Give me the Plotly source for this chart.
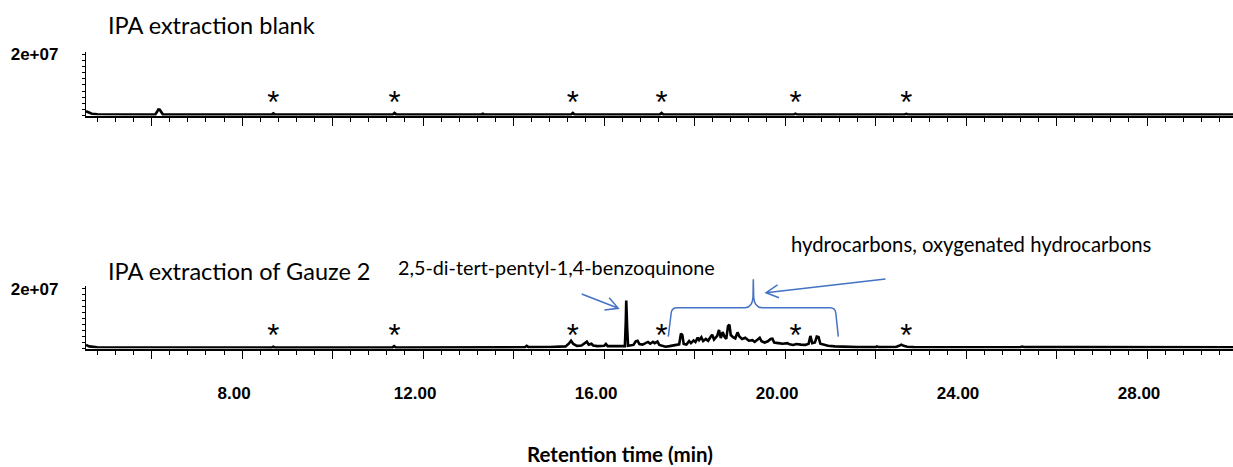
import math
import plotly.graph_objects as go

W, H = 1233, 467

# ---------------- data ----------------
# Blank extraction: retention time (min) / signal (millions of counts)
blank_time = [4.55, 4.60, 4.68, 4.80, 5.50, 6.08, 6.12, 6.15, 6.18, 6.21, 6.25, 7.50,
              8.65, 8.69, 8.73, 10.00, 11.33, 11.37, 11.41, 13.28, 13.32, 13.36,
              15.27, 15.31, 15.35, 16.50, 17.23, 17.27, 17.31, 18.80, 20.19, 20.23,
              20.27, 22.64, 22.68, 22.72, 25.00, 29.90]
blank_mcounts = [1.4, 1.0, 0.6, 0.4, 0.3, 0.3, 1.2, 2.0, 1.9, 1.0, 0.3, 0.3,
                 0.3, 0.7, 0.3, 0.3, 0.3, 0.8, 0.3, 0.3, 0.6, 0.3,
                 0.3, 0.8, 0.3, 0.3, 0.3, 0.8, 0.3, 0.3, 0.3, 0.6,
                 0.3, 0.3, 0.5, 0.3, 0.3, 0.3]

# Gauze 2 extraction: retention time (min) / signal (millions of counts)
gauze_time = [4.55, 4.62, 4.80, 6.00, 8.65, 8.69, 8.73, 11.32, 11.36, 11.40, 12.50,
              12.80, 12.85, 12.90, 13.50, 14.00, 14.25, 14.29, 14.33, 14.80, 15.00,
              15.15, 15.22, 15.27, 15.32, 15.40, 15.50, 15.58, 15.62, 15.66, 15.72,
              15.76, 15.85, 16.00, 16.04, 16.08, 16.30, 16.46, 16.48, 16.49, 16.51,
              16.53, 16.65, 16.70, 16.74, 16.78, 16.85, 16.93, 16.97, 17.02, 17.08,
              17.12, 17.18, 17.22, 17.30, 17.36, 17.45, 17.55, 17.66, 17.70, 17.73,
              17.76, 17.82, 17.88, 17.92, 17.98, 18.02, 18.07, 18.10, 18.15, 18.19,
              18.25, 18.30, 18.36, 18.39, 18.43, 18.50, 18.54, 18.58, 18.62, 18.66,
              18.70, 18.74, 18.77, 18.80, 18.85, 18.90, 18.95, 18.99, 19.05, 19.12,
              19.20, 19.28, 19.33, 19.40, 19.44, 19.48, 19.55, 19.62, 19.68, 19.72,
              19.76, 19.85, 19.95, 20.05, 20.10, 20.18, 20.25, 20.35, 20.45, 20.52,
              20.56, 20.60, 20.66, 20.70, 20.74, 20.78, 20.85, 20.95, 21.10, 21.30,
              21.60, 22.00, 22.03, 22.07, 22.45, 22.52, 22.57, 22.62, 22.70, 22.85,
              23.50, 25.20, 25.24, 25.30, 26.50, 28.14, 28.17, 28.21, 29.90]
gauze_mcounts = [1.2, 0.7, 0.4, 0.3, 0.3, 0.6, 0.3, 0.3, 0.8, 0.3, 0.35,
                 0.3, 0.55, 0.35, 0.4, 0.4, 0.4, 0.9, 0.45, 0.5, 0.6,
                 0.7, 1.6, 2.6, 1.5, 0.9, 1.0, 1.8, 2.3, 1.3, 1.6,
                 1.0, 0.8, 0.9, 1.5, 0.8, 0.7, 0.8, 9.0, 16.0, 7.0,
                 0.9, 1.2, 2.4, 2.6, 1.5, 1.3, 2.0, 2.2, 1.6, 2.2,
                 1.8, 2.3, 1.2, 0.9, 0.6, 0.8, 1.2, 1.4, 5.0, 4.5,
                 1.5, 1.3, 2.5, 1.8, 2.7, 2.2, 3.6, 2.8, 3.8, 2.5,
                 3.2, 2.6, 4.0, 4.6, 3.0, 4.2, 6.2, 3.5, 5.5, 4.0,
                 3.2, 7.5, 8.0, 4.5, 3.8, 3.4, 5.4, 4.0, 3.2, 3.6,
                 2.6, 2.8, 2.2, 3.3, 3.6, 2.4, 2.0, 2.4, 3.2, 3.3,
                 2.0, 1.8, 1.6, 1.8, 1.4, 1.2, 1.5, 1.3, 1.2, 1.6,
                 4.2, 1.8, 2.0, 4.0, 3.8, 1.6, 1.2, 0.9, 0.7, 0.55,
                 0.45, 0.45, 0.7, 0.45, 0.5, 0.9, 1.3, 0.9, 0.6, 0.45,
                 0.4, 0.4, 0.65, 0.45, 0.45, 0.4, 0.65, 0.4, 0.4]

star_times = [8.69, 11.37, 15.31, 17.27, 20.23, 22.68]   # peaks marked with *

x_label_values = [8, 12, 16, 20, 24, 28]
x_label_text = ["8.00", "12.00", "16.00", "20.00", "24.00", "28.00"]
y_tick_values = [2e7]
y_tick_text = ["2e+07"]

panel_titles = ["IPA extraction blank", "IPA extraction of Gauze 2"]
compound_label = "2,5-di-tert-pentyl-1,4-benzoquinone"
region_label = "hydrocarbons, oxygenated hydrocarbons"
x_title = "Retention time (min)"

SCALE = 1e6
blank_signal = [v * SCALE for v in blank_mcounts]
gauze_signal = [v * SCALE for v in gauze_mcounts]

# ---------------- layout helpers ----------------
def px(x):
    return x / W

def py(y):
    return 1 - y / H

X_RANGE = [4.55, 29.9]
Y_RANGE = [0, 2.09e7]
BLUE = "#4472C4"
LABEL_FONT = "Liberation Sans, Arial, sans-serif"
TEXT_FONT = "Lato, Calibri, sans-serif"

fig = go.Figure()
line_style = dict(color="black", width=2.6)
fig.add_trace(go.Scatter(x=blank_time, y=blank_signal, mode="lines", line=line_style,
                         xaxis="x", yaxis="y", hoverinfo="skip", showlegend=False))
fig.add_trace(go.Scatter(x=gauze_time, y=gauze_signal, mode="lines", line=line_style,
                         xaxis="x2", yaxis="y2", hoverinfo="skip", showlegend=False))

star_font = dict(family=LABEL_FONT, size=31, color="black")
fig.add_trace(go.Scatter(x=star_times, y=[3.3e6] * len(star_times), mode="text",
                         text=["*"] * len(star_times), textfont=star_font,
                         textposition="middle center", cliponaxis=False,
                         xaxis="x", yaxis="y", hoverinfo="skip", showlegend=False))
fig.add_trace(go.Scatter(x=star_times, y=[3.4e6] * len(star_times), mode="text",
                         text=["*"] * len(star_times), textfont=star_font,
                         textposition="middle center", cliponaxis=False,
                         xaxis="x2", yaxis="y2", hoverinfo="skip", showlegend=False))

major_ticks = [v for v in range(6, 30, 2)]
tick_text = [f"{v:.2f}" if v in x_label_values else "" for v in major_ticks]

def xaxis_cfg(anchor, labels):
    return dict(domain=[px(86), 1], range=X_RANGE, anchor=anchor, automargin=False,
                showline=True, linecolor="black", linewidth=2.4,
                showgrid=False, zeroline=False,
                ticks="outside", ticklen=8, tickwidth=1.3, tickcolor="black",
                tickmode="array", tickvals=major_ticks,
                ticktext=tick_text if labels else [""] * len(major_ticks),
                showticklabels=labels,
                tickfont=dict(family=LABEL_FONT, size=17, color="black", weight="bold"),
                ticklabelshift=-8, ticklabelstandoff=20,
                minor=dict(dtick=0.4, tick0=0, ticks="outside", ticklen=4,
                           tickwidth=1.1, tickcolor="black", showgrid=False))

def yaxis_cfg(anchor, top, bottom):
    return dict(domain=[py(bottom), py(top)], range=Y_RANGE, anchor=anchor, automargin=False,
                showline=True, linecolor="black", linewidth=1.3,
                showgrid=False, zeroline=False,
                ticks="outside", ticklen=3, tickwidth=1, tickcolor="black",
                tickmode="array", tickvals=y_tick_values, ticktext=y_tick_text,
                tickfont=dict(family=LABEL_FONT, size=17, color="black", weight="bold"),
                ticklabelstandoff=20,
                minor=dict(dtick=2e6, tick0=0, ticks="outside", ticklen=3,
                           tickwidth=1, tickcolor="black", showgrid=False))

fig.update_layout(
    width=W, height=H, margin=dict(l=0, r=0, t=0, b=0, pad=0, autoexpand=False),
    paper_bgcolor="white", plot_bgcolor="white",
    xaxis=xaxis_cfg("y", False), xaxis2=xaxis_cfg("y2", True),
    yaxis=yaxis_cfg("x", 51.7, 115.5), yaxis2=yaxis_cfg("x2", 286, 348.5),
    showlegend=False,
)

ann = []
ann.append(dict(text=panel_titles[0], x=px(106), y=py(25), xref="paper", yref="paper",
                xanchor="left", yanchor="middle", showarrow=False,
                font=dict(family=TEXT_FONT, size=23.5, color="black")))
ann.append(dict(text=panel_titles[1], x=px(106), y=py(271), xref="paper", yref="paper",
                xanchor="left", yanchor="middle", showarrow=False,
                font=dict(family=TEXT_FONT, size=23.5, color="black")))
ann.append(dict(text=compound_label, x=px(396), y=py(267), xref="paper", yref="paper",
                xanchor="left", yanchor="middle", showarrow=False,
                font=dict(family=TEXT_FONT, size=19.8, color="black")))
ann.append(dict(text=region_label, x=px(789), y=py(244), xref="paper", yref="paper",
                xanchor="left", yanchor="middle", showarrow=False,
                font=dict(family=TEXT_FONT, size=20.3, color="black")))
ann.append(dict(text="<b>" + x_title + "</b>", x=px(620), y=0, xref="paper", yref="paper",
                xanchor="center", yanchor="bottom", showarrow=False, borderpad=0,
                font=dict(family=TEXT_FONT, size=20.5, color="black")))

shapes = []

def P(x, y):
    return f"{px(x):.5f},{py(y):.5f}"

def arrow(x0, y0, x1, y1, barb=14, ang=28):
    dx, dy = x1 - x0, y1 - y0
    a = math.atan2(dy, dx)
    pts = []
    for s in (1, -1):
        b = a + math.pi + s * math.radians(ang)
        pts.append((x1 + barb * math.cos(b), y1 + barb * math.sin(b)))
    path = (f"M{P(x0, y0)} L{P(x1, y1)} M{P(*pts[0])} L{P(x1, y1)} L{P(*pts[1])}")
    return dict(type="path", path=path, xref="paper", yref="paper",
                line=dict(color=BLUE, width=1.5))

shapes.append(arrow(581.7, 294, 618.3, 308.3))
shapes.append(arrow(885.5, 279, 766, 292.7))

brace = (f"M{P(668.3, 336.7)} L{P(671.2, 313)} Q{P(671.8, 307.8)} {P(677, 307.8)} "
         f"L{P(745, 307.8)} Q{P(752.5, 307.5)} {P(753, 297)} L{P(753.3, 279.3)} "
         f"L{P(753.7, 297)} Q{P(754.3, 307.5)} {P(762, 307.8)} "
         f"L{P(830, 307.8)} Q{P(835.3, 308)} {P(835.8, 313)} L{P(838.3, 336.7)}")
shapes.append(dict(type="path", path=brace, xref="paper", yref="paper",
                   line=dict(color=BLUE, width=1.5)))

fig.update_layout(annotations=ann, shapes=shapes)
fig.write_html("out.html")
